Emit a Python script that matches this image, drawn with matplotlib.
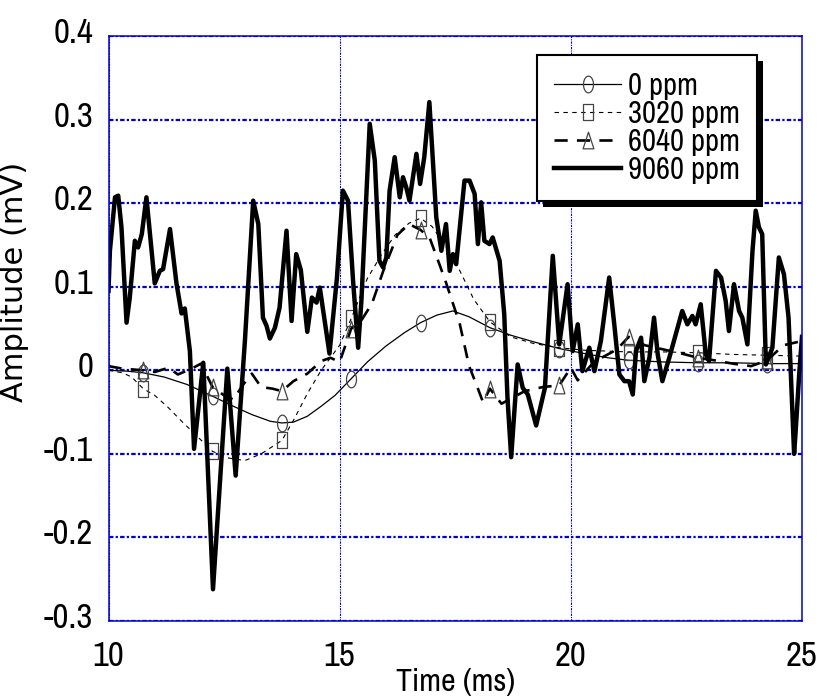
import numpy as np
import matplotlib
matplotlib.use("Agg")
import matplotlib.pyplot as plt
from matplotlib import font_manager
from matplotlib.patches import Rectangle
from matplotlib.path import Path
from matplotlib.transforms import ScaledTranslation

# ---- data -------------------------------------------------------------
mark_t = [10.75, 12.25, 13.75, 15.25, 16.75, 18.25, 19.75, 21.25, 22.75, 24.25]

t_0 = [10.0, 10.4, 10.75, 11.2, 11.7, 12.25, 12.7, 13.1, 13.5, 13.75, 14.0,
       14.3, 14.6, 14.9, 15.25, 15.6, 16.0, 16.4, 16.75, 17.1, 17.45, 17.8,
       18.25, 18.7, 19.2, 19.75, 20.3, 20.8, 21.25, 22.0, 22.75, 23.5, 24.25,
       25.0]
a_0 = [0.000, -0.001, -0.003, -0.008, -0.017, -0.031, -0.043, -0.053, -0.061,
       -0.063, -0.062, -0.055, -0.043, -0.030, -0.010, 0.010, 0.029, 0.045,
       0.057, 0.066, 0.071, 0.064, 0.051, 0.042, 0.034, 0.026, 0.020, 0.015,
       0.012, 0.010, 0.009, 0.009, 0.008, 0.008]

t_3020 = [10.0, 10.3, 10.5, 10.75, 11.0, 11.3, 11.6, 11.9, 12.25, 12.6, 12.95,
          13.3, 13.75, 14.0, 14.3, 14.6, 15.0, 15.25, 15.6, 15.9, 16.2, 16.5,
          16.75, 17.0, 17.3, 17.6, 17.9, 18.25, 18.7, 19.2, 19.75, 20.3, 21.25,
          22.0, 22.75, 23.5, 24.25, 25.0]
a_3020 = [0.000, -0.003, -0.008, -0.022, -0.030, -0.045, -0.062, -0.078,
          -0.097, -0.105, -0.108, -0.100, -0.084, -0.060, -0.028, 0.000, 0.030,
          0.062, 0.110, 0.138, 0.162, 0.176, 0.182, 0.172, 0.148, 0.119, 0.085,
          0.058, 0.040, 0.032, 0.027, 0.024, 0.022, 0.022, 0.021, 0.019, 0.018,
          0.017]

t_6040 = [10.0, 10.3, 10.75, 11.0, 11.3, 11.5, 11.8, 12.0, 12.25, 12.5, 12.7,
          12.9, 13.1, 13.3, 13.55, 13.75, 14.0, 14.3, 14.6, 14.8, 15.0, 15.25,
          15.45, 15.7, 15.95, 16.25, 16.5, 16.75, 16.95, 17.15, 17.3, 17.45,
          17.6, 17.7, 17.8, 17.95, 18.1, 18.25, 18.5, 19.0, 19.4, 19.75, 20.0,
          20.15, 20.5, 21.0, 21.25, 21.6, 22.0, 22.4, 22.75, 23.1, 23.5, 23.9,
          24.25, 24.6, 25.0]
a_6040 = [0.005, 0.002, 0.000, -0.002, 0.003, -0.005, 0.002, 0.008, -0.020,
          -0.030, -0.035, -0.018, -0.004, -0.020, -0.022, -0.025, -0.013,
          -0.004, 0.011, 0.015, 0.010, 0.050, 0.058, 0.080, 0.120, 0.162,
          0.175, 0.168, 0.158, 0.128, 0.105, 0.080, 0.055, 0.030, 0.005,
          -0.016, -0.038, -0.022, -0.040, -0.025, -0.020, -0.018, 0.003,
          -0.012, 0.010, 0.025, 0.040, 0.030, 0.025, 0.020, 0.015, 0.012,
          0.008, 0.005, 0.012, 0.030, 0.035]

t_9060 = [10.00, 10.03, 10.14, 10.21, 10.28, 10.39, 10.46, 10.57, 10.64, 10.72,
          10.82, 11.00, 11.11, 11.18, 11.33, 11.47, 11.58, 11.65, 11.76, 11.85,
          12.05, 12.26, 12.57, 12.75, 12.95, 13.13, 13.24, 13.34, 13.42, 13.49,
          13.60, 13.70, 13.85, 13.96, 14.06, 14.16, 14.30, 14.40, 14.50, 14.57,
          14.78, 14.94, 15.07, 15.18, 15.29, 15.40, 15.47, 15.65, 15.76, 15.86,
          15.94, 16.01, 16.08, 16.19, 16.30, 16.37, 16.44, 16.51, 16.66, 16.74,
          16.83, 16.94, 17.09, 17.20, 17.30, 17.38, 17.45, 17.52, 17.70, 17.81,
          17.92, 17.99, 18.06, 18.13, 18.24, 18.31, 18.46, 18.56, 18.63, 18.71,
          18.85, 18.96, 19.07, 19.25, 19.44, 19.61, 19.75, 19.93, 20.04, 20.15,
          20.25, 20.40, 20.51, 20.65, 20.83, 20.94, 21.05, 21.16, 21.26, 21.34,
          21.41, 21.52, 21.59, 21.70, 21.80, 21.88, 21.98, 22.13, 22.31, 22.41,
          22.52, 22.63, 22.70, 22.81, 22.92, 22.99, 23.14, 23.25, 23.35, 23.42,
          23.53, 23.64, 23.71, 23.82, 23.93, 24.00, 24.07, 24.14, 24.22, 24.36,
          24.50, 24.61, 24.71, 24.83, 24.86, 24.94, 25.00]
a_9060 = [0.095, 0.143, 0.207, 0.209, 0.171, 0.057, 0.087, 0.155, 0.147, 0.163,
          0.207, 0.104, 0.119, 0.121, 0.169, 0.104, 0.068, 0.074, 0.023, -0.094,
          0.009, -0.262, 0.002, -0.126, 0.035, 0.203, 0.175, 0.063, 0.053, 0.038,
          0.051, 0.075, 0.167, 0.059, 0.139, 0.120, 0.046, 0.087, 0.081, 0.099,
          0.020, 0.110, 0.215, 0.203, 0.107, 0.027, 0.083, 0.295, 0.251, 0.131,
          0.123, 0.135, 0.215, 0.255, 0.207, 0.231, 0.219, 0.203, 0.259, 0.223,
          0.255, 0.321, 0.183, 0.143, 0.175, 0.119, 0.139, 0.127, 0.227, 0.227,
          0.211, 0.151, 0.201, 0.155, 0.151, 0.159, 0.131, 0.067, -0.033, -0.104,
          0.007, -0.021, -0.029, -0.066, -0.021, 0.137, 0.031, 0.103, 0.023, 0.055,
          -0.001, 0.027, -0.001, 0.035, 0.111, 0.055, -0.005, -0.013, -0.013, -0.029,
          0.023, 0.039, -0.013, 0.015, 0.063, 0.019, -0.013, 0.015, 0.051, 0.071,
          0.055, 0.065, 0.055, 0.079, 0.019, 0.011, 0.119, 0.111, 0.083, 0.047,
          0.103, 0.071, 0.063, 0.031, 0.143, 0.191, 0.171, 0.163, 0.007, 0.027,
          0.135, 0.115, 0.063, -0.100, -0.076, -0.005, 0.040]

labels = ["0 ppm", "3020 ppm", "6040 ppm", "9060 ppm"]
x_ticks = [10, 15, 20, 25]
y_ticks = [-0.3, -0.2, -0.1, 0, 0.1, 0.2, 0.3, 0.4]
y_ticklabels = ["-0.3", "-0.2", "-0.1", "0", "0.1", "0.2", "0.3", "0.4"]

# ---- tall open markers ------------------------------------------------
th = np.linspace(0, 2 * np.pi, 41)
m_circle = Path(np.column_stack([0.6 * np.cos(th), np.sin(th)]), closed=True)
m_square = Path([(-0.65, -1), (0.65, -1), (0.65, 1), (-0.65, 1), (-0.65, -1)],
                closed=True)
m_tri = Path([(-0.65, -1), (0.65, -1), (0, 1), (-0.65, -1)], closed=True)


def marks_at(t):
    return [t.index(m) for m in mark_t]


# pick a narrow sans face if one is installed
installed = {f.name for f in font_manager.fontManager.ttflist}
narrow = [n for n in sorted(installed)
          if "Narrow" in n or "Condensed" in n]
NARROW = narrow[:1] + ["Liberation Sans", "DejaVu Sans"]
have_narrow = bool(narrow)
BLUE = "#0000d0"

fig = plt.figure(figsize=(8.19, 6.98), dpi=100)
ax = fig.add_axes([0.1325, 0.1103, 0.8467, 0.8381])

mk = dict(mfc="none", mec="#444444", mew=0.9, ms=12)
ax.plot(t_0, a_0, color="black", lw=0.9, marker=m_circle,
        markevery=marks_at(t_0), label=labels[0], **mk)
ax.plot(t_3020, a_3020, color="black", lw=0.8, dashes=(4, 4), marker=m_square,
        markevery=marks_at(t_3020), label=labels[1], **mk)
ax.plot(t_6040, a_6040, color="black", lw=1.9, dashes=(5, 3.5), marker=m_tri,
        markevery=marks_at(t_6040), label=labels[2], **mk)
ax.plot(t_9060, a_9060, color="black", lw=3.2, solid_joinstyle="round",
        label=labels[3])

ax.set_xlim(10, 25)
ax.set_ylim(-0.3, 0.4)
ax.set_xticks(x_ticks)
ax.set_yticks(y_ticks)
ax.set_yticklabels(y_ticklabels)

ax.grid(axis="y", color=BLUE, lw=1.6, linestyle=(0, (2, 1, 1, 1)))
ax.grid(axis="x", color=BLUE, lw=0.8, linestyle=(0, (2, 1, 1, 1)))
for sp in ax.spines.values():
    sp.set_color(BLUE)
    sp.set_linewidth(1.1)

tick_size = 25 if have_narrow else 21
ax.tick_params(length=0)
ax.tick_params(axis="x", pad=14)
ax.tick_params(axis="y", pad=11)
for lab in ax.get_xticklabels():
    lab.set_fontfamily(NARROW)
    lab.set_fontsize(tick_size)
up = ScaledTranslation(0, 0.06, fig.dpi_scale_trans)
for lab in ax.get_yticklabels():
    lab.set_fontfamily(NARROW)
    lab.set_fontsize(tick_size)
    lab.set_transform(lab.get_transform() + up)

ax.set_xlabel("Time (ms)", family=NARROW, fontsize=23 if have_narrow else 21,
              labelpad=-3)
ax.set_ylabel("Amplitude (mV)", family="DejaVu Sans", fontsize=22)
ax.yaxis.set_label_coords(-0.115, 0.58)

leg = ax.legend(loc="upper right", bbox_to_anchor=(0.935, 0.9675),
                borderaxespad=0, fancybox=False, framealpha=1,
                edgecolor="black",
                prop={"family": NARROW, "size": 22 if have_narrow else 19},
                handlelength=2.2, handletextpad=0.22, labelspacing=0.0,
                borderpad=0.55)
leg.get_frame().set_linewidth(1.5)

# solid black drop shadow, offset right and down
fig.canvas.draw()
bb = leg.get_window_extent()
ax.add_patch(Rectangle((bb.x0 + 6, bb.y0 - 6), bb.width, bb.height,
                       transform=None, facecolor="black", edgecolor="none",
                       clip_on=False, zorder=4.9))

fig.savefig("out.png", dpi=100)
